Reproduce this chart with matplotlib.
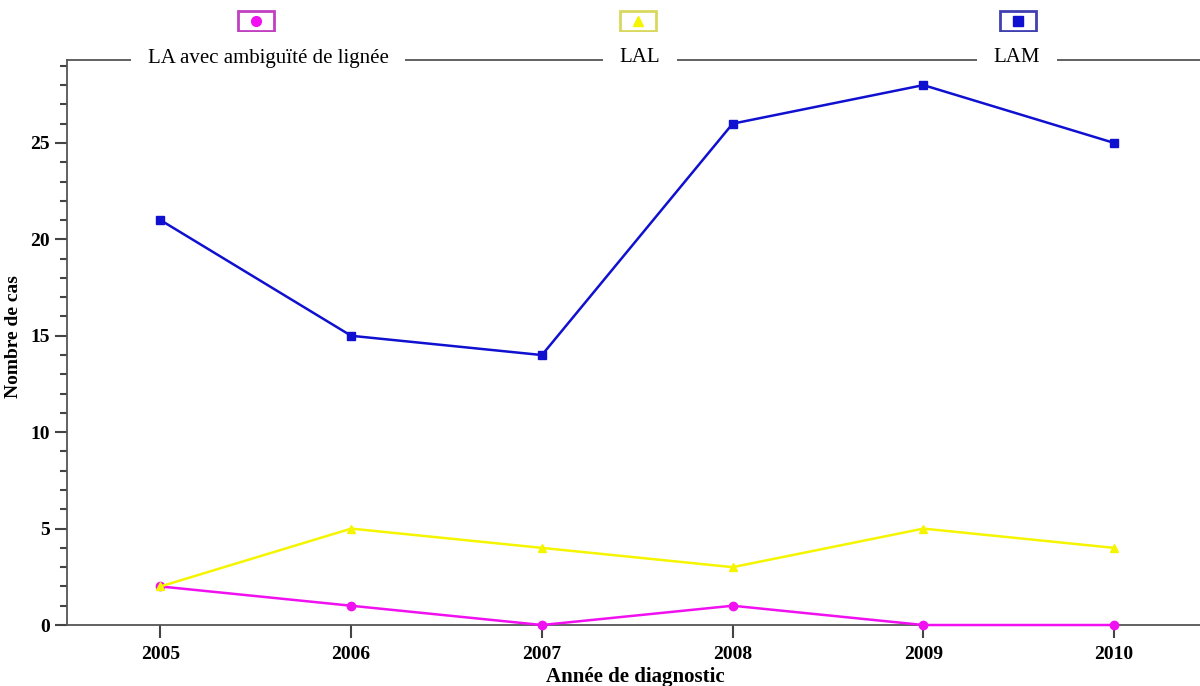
import matplotlib.pyplot as plt
from matplotlib.lines import Line2D
from matplotlib.patches import Rectangle
from matplotlib.ticker import MultipleLocator

plt.rcParams['font.family'] = ['Liberation Serif', 'DejaVu Serif']

years = [2005, 2006, 2007, 2008, 2009, 2010]
la_ambig = [2, 1, 0, 1, 0, 0]
lal = [2, 5, 4, 3, 5, 4]
lam = [21, 15, 14, 26, 28, 25]

series = [
    ("LA avec ambiguïté de lignée", la_ambig, '#F010F0', 'o', '#C040C0'),
    ("LAL", lal, '#F5F500', '^', '#D8D860'),
    ("LAM", lam, '#1010D0', 's', '#4040B0'),
]

fig = plt.figure(figsize=(12, 6.86), dpi=100)
ax = fig.add_axes([0.0558, 0.0889, 0.9442, 0.8236])

for name, vals, col, mk, _ in series:
    ax.plot(years, vals, color=col, lw=1.8, marker=mk, markersize=6,
            clip_on=False, zorder=3)

ax.set_xlim(2004.51, 2010.45)
ax.set_ylim(0, 29.3)
ax.set_xticks(years)
ax.yaxis.set_major_locator(MultipleLocator(5))
ax.yaxis.set_minor_locator(MultipleLocator(1))
ax.tick_params(axis='both', which='major', direction='out', length=9,
               width=1.5, color='#444444', labelsize=14)
ax.tick_params(axis='x', which='major', pad=6)
ax.tick_params(axis='y', which='minor', direction='out', length=5,
               width=1.5, color='#444444')
for lab in ax.get_xticklabels() + ax.get_yticklabels():
    lab.set_fontweight('bold')

for s in ['left', 'bottom', 'top']:
    ax.spines[s].set_color('#555555')
    ax.spines[s].set_linewidth(1.3)
ax.spines['right'].set_visible(False)

ax.set_xlabel("Année de diagnostic", fontsize=15, fontweight='bold', va='center')
ax.xaxis.set_label_coords(0.502, -0.092)
ax.set_ylabel("Nombre de cas", fontsize=14, fontweight='bold')
ax.yaxis.set_label_coords(-0.04, 0.51)

# legend along the top frame
label_x = [268 / 1200, 640 / 1200, 1017 / 1200]
box_x = [256 / 1200, 638 / 1200, 1018 / 1200]
for (name, vals, col, mk, edge), lx, bx in zip(series, label_x, box_x):
    fig.text(lx, 1 - 58 / 686, name, ha='center', va='center', fontsize=15,
             bbox=dict(facecolor='white', edgecolor='none', pad=12))
    w, h = 36 / 1200, 20 / 686
    fig.add_artist(Rectangle((bx - w / 2, 1 - 21 / 686 - h / 2), w, h,
                             transform=fig.transFigure, facecolor='white',
                             edgecolor=edge, lw=2))
    fig.add_artist(Line2D([bx], [1 - 21 / 686], transform=fig.transFigure,
                          marker=mk, color=col, markersize=7, linestyle='none'))

fig.savefig("out.png", dpi=100)
